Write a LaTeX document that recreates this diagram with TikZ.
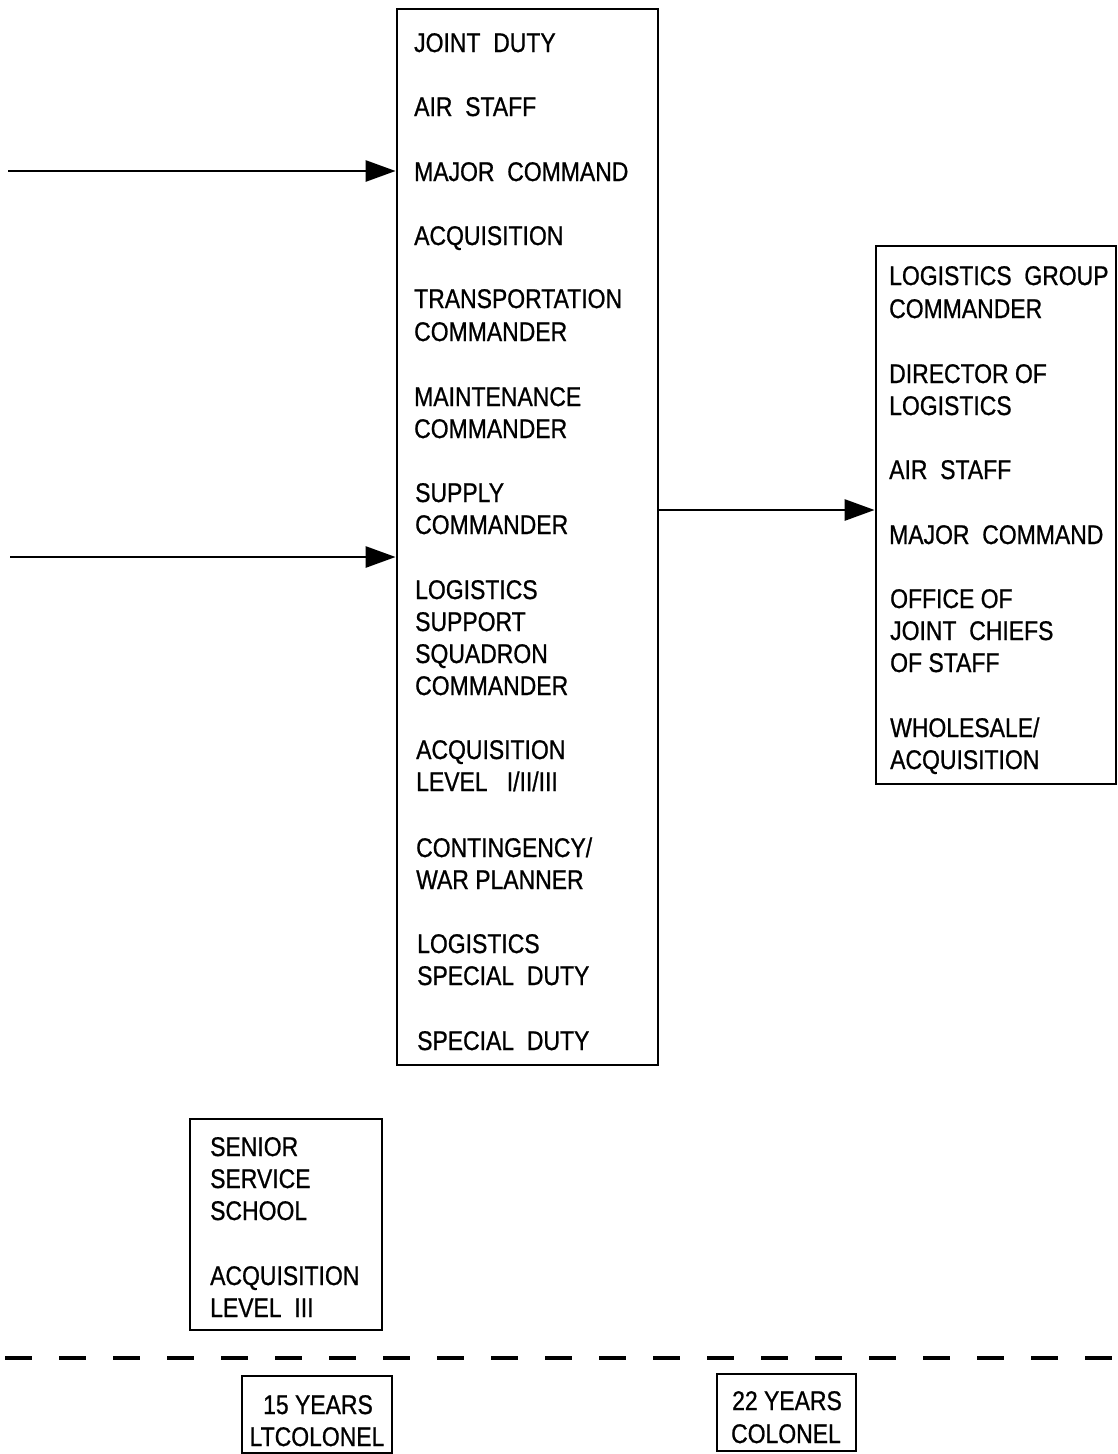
\documentclass[tikz,border=0pt]{standalone}
\usepackage{fontspec}
\setmainfont[FakeStretch=0.85,FakeBold=0.8]{Liberation Sans}
\usetikzlibrary{arrows.meta}
\begin{document}
\begin{tikzpicture}[x=1pt,y=-1pt,
  box/.style={draw, line width=2.8pt, inner sep=0pt, minimum width=#1},
  txt/.style={anchor=base west, inner sep=0pt, font=\fontsize{27}{32}\selectfont},
  ctxt/.style={anchor=base, inner sep=0pt, font=\fontsize{27}{32}\selectfont},
  arr/.style={line width=2.8pt, -{Triangle[length=30pt,width=21pt]}}]
\useasboundingbox (0,0) rectangle (1117,1454);
% boxes
\node[box=261pt, minimum height=1056pt] (main) at (527.5,537) {};
\node[box=240pt, minimum height=538pt] (right) at (996,515) {};
\node[box=192pt, minimum height=211pt] (senior) at (286,1224.5) {};
\node[box=150pt, minimum height=77pt] (ltc) at (317,1414.5) {};
\node[box=139pt, minimum height=77pt] (col) at (786.5,1412.5) {};
% main box texts
\node[txt] (m1) at (414,52) {JOINT\ \ DUTY};
\node[txt] (m2) at (414,116) {AIR\ \ STAFF};
\node[txt] (m3) at (414,181) {MAJOR\ \ COMMAND};
\node[txt] (m4) at (414,245) {ACQUISITION};
\node[txt] (m5) at (414,308) {TRANSPORTATION};
\node[txt] (m6) at (414,341) {COMMANDER};
\node[txt] (m7) at (414,406) {MAINTENANCE};
\node[txt] (m8) at (414,438) {COMMANDER};
\node[txt] (m9) at (415,502) {SUPPLY};
\node[txt] (m10) at (415,534) {COMMANDER};
\node[txt] (m11) at (415,599) {LOGISTICS};
\node[txt] (m12) at (415,631) {SUPPORT};
\node[txt] (m13) at (415,663) {SQUADRON};
\node[txt] (m14) at (415,695) {COMMANDER};
\node[txt] (m15) at (416,759) {ACQUISITION};
\node[txt] (m16) at (416,791) {LEVEL\ \ \ I/II/III};
\node[txt] (m17) at (416,857) {CONTINGENCY/};
\node[txt] (m18) at (416,889) {WAR PLANNER};
\node[txt] (m19) at (417,953) {LOGISTICS};
\node[txt] (m20) at (417,985) {SPECIAL\ \ DUTY};
\node[txt] (m21) at (417,1050) {SPECIAL\ \ DUTY};
% right box texts
\node[txt] (r1) at (889,285) {LOGISTICS\ \ GROUP};
\node[txt] (r2) at (889,318) {COMMANDER};
\node[txt] (r3) at (889,383) {DIRECTOR OF};
\node[txt] (r4) at (889,415) {LOGISTICS};
\node[txt] (r5) at (889,479) {AIR\ \ STAFF};
\node[txt] (r6) at (889,544) {MAJOR\ \ COMMAND};
\node[txt] (r7) at (890,608) {OFFICE OF};
\node[txt] (r8) at (890,640) {JOINT\ \ CHIEFS};
\node[txt] (r9) at (890,672) {OF STAFF};
\node[txt] (r10) at (890,737) {WHOLESALE/};
\node[txt] (r11) at (890,769) {ACQUISITION};
% senior box texts
\node[txt] (s1) at (210,1156) {SENIOR};
\node[txt] (s2) at (210,1188) {SERVICE};
\node[txt] (s3) at (210,1220) {SCHOOL};
\node[txt] (s4) at (210,1285) {ACQUISITION};
\node[txt] (s5) at (210,1317) {LEVEL\ \ III};
% bottom texts
\node[ctxt] (b1) at (318,1414) {15 YEARS};
\node[ctxt] (b2) at (317,1446) {LTCOLONEL};
\node[ctxt] (b3) at (787,1410) {22 YEARS};
\node[ctxt] (b4) at (786,1443) {COLONEL};
% arrows
\coordinate (a1) at (8,171);
\coordinate (a2) at (10,557);
\coordinate (ry) at (0,510);
\draw[arr] (a1) -- (main.west |- a1);
\draw[arr] (a2) -- (main.west |- a2);
\draw[arr] (main.east |- ry) -- (right.west |- ry);
% dashed divider
\coordinate (d1) at (5,1358);
\coordinate (d2) at (1117,1358);
\draw[line width=3.4pt, dash pattern=on 27pt off 27pt] (d1) -- (d2);
\end{tikzpicture}
\end{document}
